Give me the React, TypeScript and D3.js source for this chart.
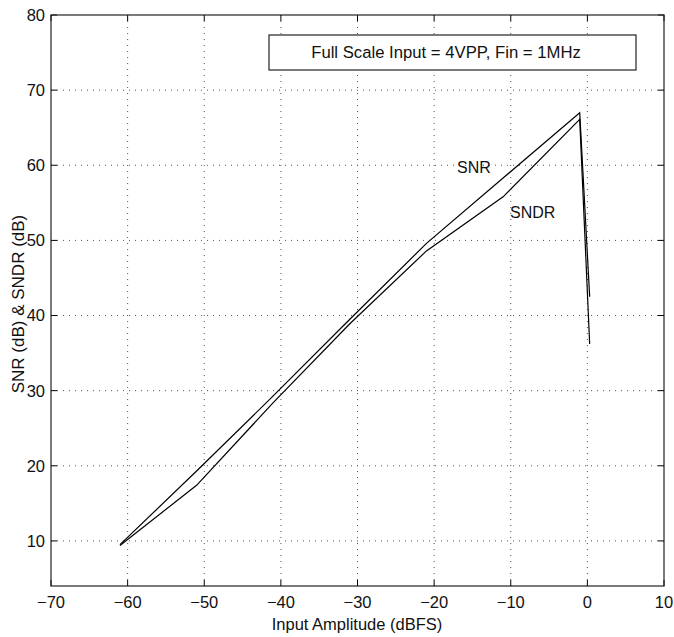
import React from "react";
import * as d3 from "d3";

const xTicks = [-70, -60, -50, -40, -30, -20, -10, 0, 10];
const yTicks = [10, 20, 30, 40, 50, 60, 70, 80];

const snrX = [-61, -51, -41, -31, -21, -11, -1, 0.3];
const snrY = [9.5, 19.3, 29.3, 39.5, 49.6, 58.3, 67.0, 42.5];

const sndrX = [-61, -51, -41, -31, -21, -11, -1, 0.3];
const sndrY = [9.4, 17.4, 28.4, 38.9, 48.6, 55.8, 66.1, 36.2];

const legendText = "Full Scale Input = 4VPP, Fin = 1MHz";
const xLabel = "Input Amplitude (dBFS)";
const yLabel = "SNR (dB) & SNDR (dB)";

const W = 674;
const H = 637;
const L = 51, R = 664, T = 15, B = 586;
const FONT = "'Liberation Sans', Arial, Helvetica, sans-serif";

function fmt(v: number) {
  return v < 0 ? "\u2212" + Math.abs(v) : String(v);
}

export default function App() {
  const x = d3.scaleLinear().domain([-70, 10]).range([L, R]);
  const y = d3.scaleLinear().domain([4, 80]).range([B, T]);
  const line = d3
    .line<[number, number]>()
    .x((d) => x(d[0]))
    .y((d) => y(d[1]));
  const snr = snrX.map((v, i) => [v, snrY[i]] as [number, number]);
  const sndr = sndrX.map((v, i) => [v, sndrY[i]] as [number, number]);
  const tick = 6;
  return (
    <svg
      width={W}
      height={H}
      style={{ position: "absolute", left: 0, top: 0, background: "#fff" }}
      fontFamily={FONT}
    >
      <rect x={0} y={0} width={W} height={H} fill="#fff" />
      {xTicks
        .filter((v) => v > -70 && v < 10)
        .map((v) => (
          <line
            key={"gx" + v}
            x1={x(v)}
            x2={x(v)}
            y1={T}
            y2={B}
            stroke="#555"
            strokeWidth={1}
            strokeDasharray="1,5"
          />
        ))}
      {yTicks
        .filter((v) => v < 80)
        .map((v) => (
          <line
            key={"gy" + v}
            x1={L}
            x2={R}
            y1={y(v)}
            y2={y(v)}
            stroke="#555"
            strokeWidth={1}
            strokeDasharray="1,5"
          />
        ))}
      {xTicks.map((v) => (
        <g key={"tx" + v}>
          <line x1={x(v)} x2={x(v)} y1={B} y2={B - tick} stroke="#000" />
          <line x1={x(v)} x2={x(v)} y1={T} y2={T + tick} stroke="#000" />
          <text
            x={x(v)}
            y={608}
            textAnchor="middle"
            fontSize={16.5}
            fill="#111"
          >
            {fmt(v)}
          </text>
        </g>
      ))}
      {yTicks.map((v) => (
        <g key={"ty" + v}>
          <line x1={L} x2={L + tick} y1={y(v)} y2={y(v)} stroke="#000" />
          <line x1={R} x2={R - tick} y1={y(v)} y2={y(v)} stroke="#000" />
          <text
            x={45}
            y={y(v)}
            dy="0.36em"
            textAnchor="end"
            fontSize={16.5}
            fill="#111"
          >
            {fmt(v)}
          </text>
        </g>
      ))}
      <rect
        x={L}
        y={T}
        width={R - L}
        height={B - T}
        fill="none"
        stroke="#222"
        strokeWidth={1.2}
      />
      <path d={line(snr) || ""} fill="none" stroke="#000" strokeWidth={1.2} />
      <path d={line(sndr) || ""} fill="none" stroke="#000" strokeWidth={1.2} />
      <text x={457} y={173} fontSize={16} fill="#111">
        SNR
      </text>
      <text x={510} y={218} fontSize={16} fill="#111">
        SNDR
      </text>
      <rect
        x={269}
        y={35}
        width={367}
        height={35}
        fill="#fff"
        stroke="#222"
        strokeWidth={1.2}
      />
      <text x={446} y={58} textAnchor="middle" fontSize={16.7} fill="#111">
        {legendText}
      </text>
      <text x={357} y={630} textAnchor="middle" fontSize={16.5} fill="#111">
        {xLabel}
      </text>
      <text
        transform="translate(24,304) rotate(-90)"
        textAnchor="middle"
        fontSize={17}
        fill="#111"
      >
        {yLabel}
      </text>
    </svg>
  );
}
